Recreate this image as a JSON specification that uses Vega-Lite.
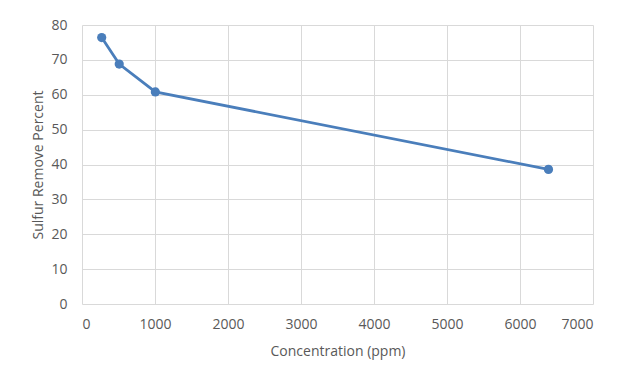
{
  "$schema": "https://vega.github.io/schema/vega-lite/v6.json",
  "autosize": "none",
  "width": 511,
  "height": 279,
  "padding": {"left": 82, "top": 25, "right": 41, "bottom": 84},
  "background": "white",
  "data": {"values": [
    {"conc": 270, "pct": 76.4},
    {"conc": 510, "pct": 68.8},
    {"conc": 1005, "pct": 60.8},
    {"conc": 6390, "pct": 38.6}
  ]},
  "mark": {"type": "line", "color": "#4A7EBB", "strokeWidth": 2.8, "point": {"filled": true, "size": 85, "color": "#4A7EBB", "opacity": 1}},
  "encoding": {
    "x": {"field": "conc", "type": "quantitative", "title": "Concentration (ppm)",
      "scale": {"domain": [0, 7000], "nice": false},
      "axis": {"values": [0,1000,2000,3000,4000,5000,6000,7000], "format": "d", "grid": true, "domain": false, "ticks": false, "labelPadding": 13, "titlePadding": 13}},
    "y": {"field": "pct", "type": "quantitative", "title": "Sulfur Remove Percent",
      "scale": {"domain": [0, 80], "nice": false},
      "axis": {"values": [0,10,20,30,40,50,60,70,80], "grid": true, "domain": false, "ticks": false, "labelPadding": 15, "titlePadding": 5}}
  },
  "config": {
    "view": {"stroke": null},
    "axis": {
      "labelFont": "Open Sans", "labelFontSize": 14, "labelColor": "#595959",
      "titleFont": "Open Sans", "titleFontSize": 14, "titleColor": "#595959", "titleFontWeight": "normal",
      "gridColor": "#D9D9D9", "gridWidth": 1
    }
  }
}
